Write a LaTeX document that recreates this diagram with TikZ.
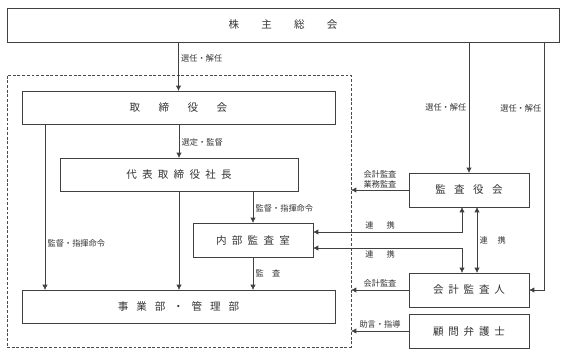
\documentclass[tikz,border=0pt]{standalone}
\usepackage{fontspec}
\newfontfamily\jp{Noto Sans CJK JP}
\usetikzlibrary{arrows.meta, positioning, calc}

\begin{document}
\begin{tikzpicture}[
  x=0.03cm, y=-0.03cm,
  box/.style={draw=black!75, line width=0.6pt, inner sep=0pt, outer sep=0pt, minimum height=1.0cm,
    font=\jp\fontsize{9}{10}\selectfont, text=black!80},
  ls/.style={execute at begin node={\spaceskip=#1\relax}},
  conn/.style={draw=black!75, line width=0.6pt, -{Latex[length=4.5pt, width=4.5pt]}},
  both/.style={draw=black!75, line width=0.6pt, {Latex[length=4.5pt, width=4.5pt]}-{Latex[length=4.5pt, width=4.5pt]}},
  lbl/.style={font=\jp\fontsize{7}{8.5}\selectfont, text=black!80, inner sep=2pt},
  grpbox/.style={draw=black!70, line width=0.6pt, dash pattern=on 2.5pt off 1.5pt, inner sep=0pt, outer sep=0pt}
]
  \useasboundingbox (0,0) rectangle (567,357);

  % Group frame
  \node[grpbox, minimum width=10.32cm, minimum height=8.16cm] (grp) at (179,211) {};

  % Boxes
  \node[box, ls=2.1em, minimum width=16.56cm, minimum height=1.02cm] (soukai) at (283,25) {株 主 総 会};
  \node[box, ls=1.75em, minimum width=9.39cm, minimum height=0.99cm] (torishimari) at (178.5,107.5) {取 締 役 会};
  \node[box, ls=0.5em, minimum width=7.14cm, minimum height=0.99cm] (shacho) at (179,174.5) {代 表 取 締 役 社 長};
  \node[box, ls=0.5em, minimum width=3.6cm, minimum height=1.02cm] (naibu) at (253,240) {内 部 監 査 室};
  \node[box, ls=0.75em, minimum width=9.39cm, minimum height=0.99cm] (jigyo) at (178.5,306.5) {事 業 部 ・ 管 理 部};
  \node[box, ls=0.8em, minimum width=3.6cm, minimum height=1.02cm] (kansayaku) at (469,190) {監 査 役 会};
  \node[box, ls=0.45em, minimum width=3.6cm, minimum height=1.02cm] (kaikei) at (469,290) {会 計 監 査 人};
  \node[box, ls=0.45em, minimum width=3.6cm, minimum height=1.02cm] (komon) at (469,331) {顧 問 弁 護 士};

  % Internal lines
  \draw[conn] (torishimari.north |- soukai.south) -- node[lbl, right, pos=0.33] (l1) {選任・解任} (torishimari.north);
  \draw[conn] (shacho.north |- torishimari.south) -- node[lbl, right, pos=0.53] (l2) {選定・監督} (shacho.north);
  \draw[conn] (naibu.north |- shacho.south) -- node[lbl, right, pos=0.53] (l3) {監督・指揮命令} (naibu.north);
  \draw[conn] (naibu.south) -- node[lbl, right, pos=0.48, ls=1em] (l4) {監 査} (naibu.south |- jigyo.north);
  \draw[conn] ([xshift=0.69cm]torishimari.south west) -- node[lbl, right, pos=0.72] (l5) {監督・指揮命令} ([xshift=0.69cm]jigyo.north west);
  \draw[conn] (shacho.south) -- (shacho.south |- jigyo.north);

  % From shareholders
  \draw[conn] (kansayaku.north |- soukai.south) -- node[lbl, left, pos=0.5] (l6) {選任・解任} (kansayaku.north);
  \draw[conn] ([xshift=-0.45cm]soukai.south east) |- node[lbl, left, pos=0.133] (l7) {選任・解任} (kaikei.east);

  % Audit side
  \draw[conn] (kansayaku.west) -- node[lbl, above, align=center, inner sep=1.5pt] (l8) {会計監査\\業務監査} (kansayaku.west -| grp.east);
  \draw[both] ([yshift=0.24cm]naibu.east) -| node[lbl, above, pos=0.225, ls=1.6em] (l9) {連 携} ([xshift=-0.21cm]kansayaku.south);
  \draw[both] ([yshift=-0.24cm]naibu.east) -| node[lbl, below, pos=0.225, ls=1.6em] (l10) {連 携} ([xshift=-0.21cm]kaikei.north);
  \draw[both] ([xshift=0.24cm]kansayaku.south) -- node[lbl, right, pos=0.5, ls=1.2em] (l11) {連 携} ([xshift=0.24cm]kaikei.north);
  \draw[conn] (kaikei.west) -- node[lbl, above] (l12) {会計監査} (kaikei.west -| grp.east);
  \draw[conn] (komon.west) -- node[lbl, above] (l13) {助言・指導} (komon.west -| grp.east);

\end{tikzpicture}
\end{document}
